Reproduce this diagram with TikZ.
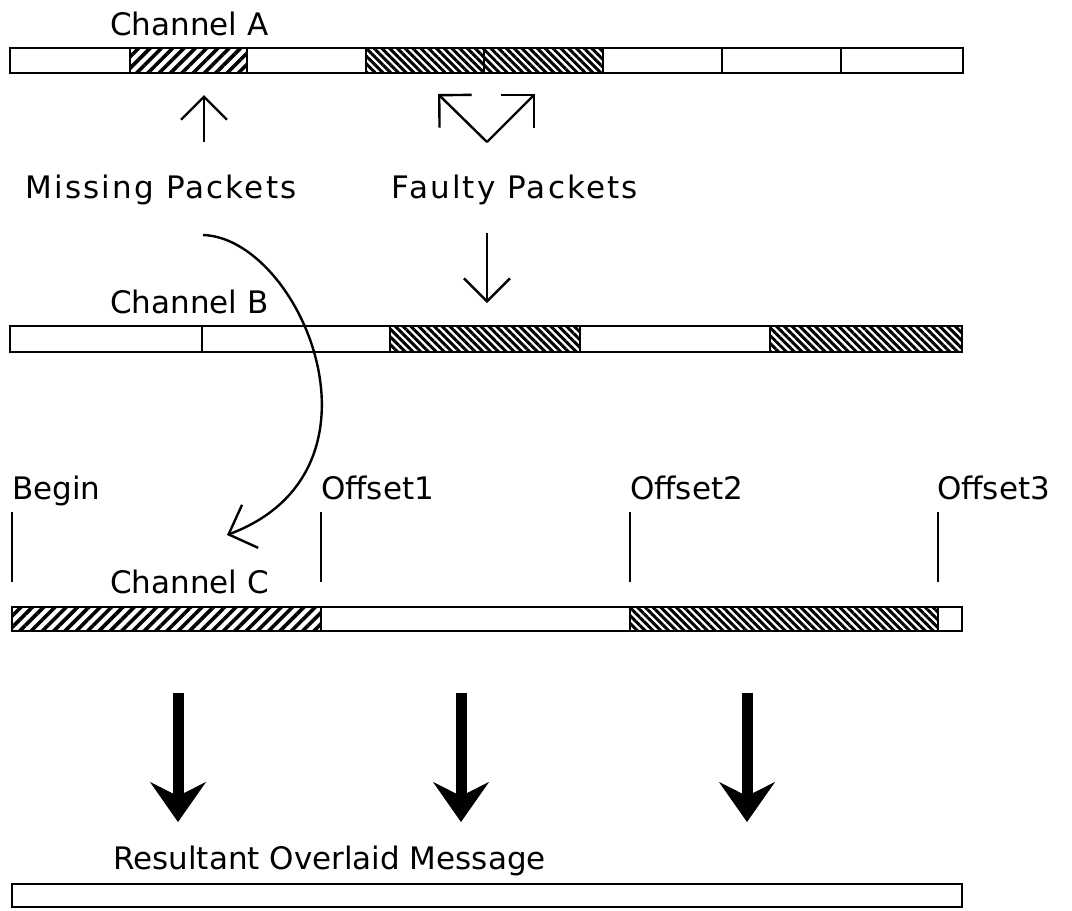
\documentclass[tikz,border=0pt]{standalone}
\usepackage{fontspec}
\setmainfont{DejaVu Sans}
\usetikzlibrary{arrows.meta,patterns.meta}
\begin{document}
\begin{tikzpicture}[x=1pt,y=-1pt,
  bar/.style={draw=black,line width=2pt},
  fwdhatch/.style={pattern={Lines[angle=45,distance=8pt,line width=3.6pt]}},
  backhatch/.style={pattern={Lines[angle=-45,distance=5.5pt,line width=3pt]}},
  lbl/.style={anchor=base west,inner sep=0pt,font=\fontsize{31}{36}\selectfont},
  widelbl/.style={lbl,font=\fontsize{31}{36}\selectfont\addfontfeature{LetterSpace=7}},
  thinarrow/.style={line width=2.4pt,-{Straight Barb[length=23pt,width=46pt]}},
  fatarrow/.style={line width=11pt,-{Stealth[length=40pt,width=56pt,inset=14pt,line width=1pt]}},
  tick/.style={line width=2pt}]
\useasboundingbox (0,0) rectangle (1072,911);

% ---- Channel A ----
\node[lbl] (chA) at (110,35) {Channel A};
\path[fwdhatch]  (130,48) rectangle (247,73);
\path[backhatch] (366,48) rectangle (603,73);
\draw[bar] (10,48) rectangle (963,73);
\foreach \x in {130,247,366,484,603,722,841} \draw[bar] (\x,48) -- (\x,73);

% ---- annotations under channel A ----
\coordinate (mpTail) at (204,142);
\coordinate (mpHead) at (204,95);
\draw[thinarrow] (mpTail) -- (mpHead);
\coordinate (fpV) at (487,142);
\coordinate (fpL) at (438,94);
\coordinate (fpR) at (535,94);
\draw[thinarrow] (fpV) -- (fpL);
\draw[thinarrow] (fpV) -- (fpR);
\node[widelbl,anchor=base] (missing) at (161,198) {Missing Packets};
\node[widelbl,anchor=base] (faulty) at (515,198) {Faulty Packets};
\coordinate (fdTop) at (487,233);
\coordinate (fdTip) at (487,303);
\draw[thinarrow] (fdTop) -- (fdTip);

% ---- Channel B ----
\node[lbl] (chB) at (110,313) {Channel B};
\path[backhatch] (390,326) rectangle (580,352);
\path[backhatch] (770,326) rectangle (962,352);
\draw[bar] (10,326) rectangle (962,352);
\foreach \x in {202,390,580,770} \draw[bar] (\x,326) -- (\x,352);

% ---- missing packet taken over into channel C ----
\coordinate (crvStart) at (203,235);
\coordinate (crvEnd) at (227,535);
\draw[thinarrow] (crvStart) .. controls (300,238) and (400,470) .. (crvEnd);

% ---- offsets ----
\node[lbl] (begin) at (12,499) {Begin};
\node[lbl] (off1) at (321,499) {Offset1};
\node[lbl] (off2) at (630,499) {Offset2};
\node[lbl] (off3) at (937,499) {Offset3};
\foreach \x in {12,321,630,938} \draw[tick] (\x,512) -- (\x,582);

% ---- Channel C ----
\node[lbl] (chC) at (110,593) {Channel C};
\path[fwdhatch]  (12,607) rectangle (321,631);
\path[backhatch] (630,607) rectangle (938,631);
\draw[bar] (12,607) rectangle (962,631);
\foreach \x in {321,630,938} \draw[bar] (\x,607) -- (\x,631);

% ---- overlay arrows ----
\foreach \x/\n in {178/a,461/b,747/c}{
  \coordinate (ov\n Top) at (\x,693);
  \coordinate (ov\n Tip) at (\x,822);
  \draw[fatarrow] (ov\n Top) -- (ov\n Tip);
}

% ---- result ----
\node[lbl] (result) at (113,869) {Resultant Overlaid Message};
\draw[bar] (12,884) rectangle (962,907);
\end{tikzpicture}
\end{document}
